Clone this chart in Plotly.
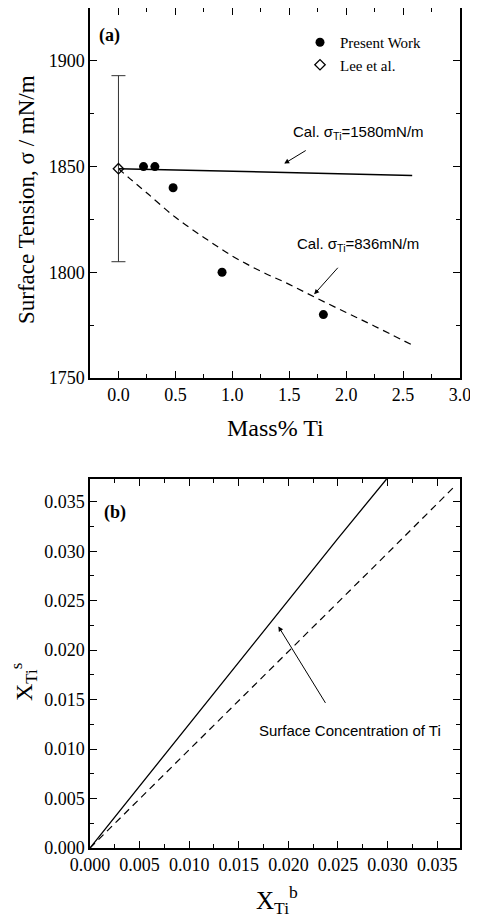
import plotly.graph_objects as go

# ---------------- data ----------------
# Panel (a)
present_x = [0.22, 0.32, 0.48, 0.91, 1.80]
present_y = [1850, 1850, 1840, 1800, 1780]

lee_x = [0.0]
lee_y = [1849]
lee_err = [44]

cal1580_x = [0.0, 0.5, 1.0, 1.5, 2.0, 2.58]
cal1580_y = [1849, 1848.4, 1847.8, 1847.2, 1846.5, 1845.8]

cal836_x = [0.0, 0.1, 0.25, 0.5, 0.75, 1.0, 1.25, 1.5, 1.75, 2.0, 2.25, 2.58]
cal836_y = [1849, 1844.3, 1837.5, 1826, 1816.5, 1807.7, 1800.5, 1794.3, 1787.5, 1781, 1774.5, 1765.6]

# Panel (b)
surf_solid_x = [0.0, 0.005, 0.010, 0.015, 0.020, 0.025, 0.0299]
surf_solid_y = [0.0, 0.00627, 0.01255, 0.0188, 0.0251, 0.0313, 0.0373]

surf_dash_x = [0.0, 0.010, 0.020, 0.030, 0.0368]
surf_dash_y = [0.0, 0.0099, 0.0199, 0.0298, 0.0366]

a_xticks = [0.0, 0.5, 1.0, 1.5, 2.0, 2.5, 3.0]
a_yticks = [1750, 1800, 1850, 1900]
b_ticks = [0.000, 0.005, 0.010, 0.015, 0.020, 0.025, 0.030, 0.035]

# ---------------- figure ----------------
OFF = 8                      # page body margin of the browser
W, H = 478 - OFF, 922 - OFF
SERIF = "Liberation Serif"
SANS = "Liberation Sans"


def px(x):
    return (x - OFF) / W


def py(y):
    return 1 - (y - OFF) / H


fig = go.Figure()

# Panel (a) traces
fig.add_trace(go.Scatter(x=cal1580_x, y=cal1580_y, mode="lines",
                         line=dict(color="black", width=1.5), showlegend=False,
                         xaxis="x", yaxis="y"))
fig.add_trace(go.Scatter(x=cal836_x, y=cal836_y, mode="lines",
                         line=dict(color="black", width=1.2, dash="7px,5px"), showlegend=False,
                         xaxis="x", yaxis="y", line_shape="spline"))
fig.add_trace(go.Scatter(x=present_x, y=present_y, mode="markers", name="Present Work",
                         marker=dict(symbol="circle", size=9, color="black"),
                         xaxis="x", yaxis="y"))
fig.add_trace(go.Scatter(x=lee_x, y=lee_y, mode="markers", name="Lee et al.",
                         marker=dict(symbol="diamond-open", size=8, color="black",
                                     line=dict(width=1.3, color="black")),
                         error_y=dict(type="data", array=lee_err, visible=True,
                                      color="#333333", thickness=1, width=7),
                         xaxis="x", yaxis="y"))

# Panel (b) traces
fig.add_trace(go.Scatter(x=surf_solid_x, y=surf_solid_y, mode="lines",
                         line=dict(color="black", width=1.3), showlegend=False,
                         xaxis="x2", yaxis="y2"))
fig.add_trace(go.Scatter(x=surf_dash_x, y=surf_dash_y, mode="lines",
                         line=dict(color="black", width=1.2, dash="7px,5px"), showlegend=False,
                         xaxis="x2", yaxis="y2"))

tickfont = dict(family=SERIF, size=18, color="black")
axis_common = dict(
    showline=True, linecolor="black", linewidth=1.5, mirror="ticks",
    ticks="inside", ticklen=7, tickwidth=1.3, tickcolor="black",
    showgrid=False, zeroline=False, automargin=False,
    tickfont=tickfont,
)
minor_common = dict(ticks="inside", ticklen=4, tickwidth=1.1, tickcolor="black", showgrid=False)

xdom = [px(90), px(460)]

fig.update_layout(
    template="simple_white",
    width=W, height=H, autosize=False,
    font=dict(family=SERIF, size=18, color="black"),
    margin=dict(l=0, r=0, t=0, b=0, pad=0, autoexpand=False),
    paper_bgcolor="white", plot_bgcolor="white",
    showlegend=True,
    legend=dict(x=px(300), y=py(26), xanchor="left", yanchor="top",
                bgcolor="rgba(0,0,0,0)", font=dict(family=SERIF, size=15, color="black"),
                itemsizing="trace", tracegroupgap=0, borderwidth=0),
    xaxis=dict(domain=xdom, anchor="y", range=[-0.25, 3.0],
               tickvals=a_xticks, ticktext=[f"{v:.1f}" for v in a_xticks],
               minor=dict(dtick=0.25, tick0=0, **minor_common), **axis_common),
    yaxis=dict(domain=[py(378), py(8)], anchor="x", range=[1750, 1925],
               tickvals=a_yticks, ticktext=[str(v) for v in a_yticks],
               minor=dict(dtick=25, tick0=1750, **minor_common), **axis_common),
    xaxis2=dict(domain=xdom, anchor="y2", range=[0, 0.0373],
                tickvals=b_ticks, ticktext=[f"{v:.3f}" for v in b_ticks],
                minor=dict(dtick=0.0025, tick0=0, **minor_common), **axis_common),
    yaxis2=dict(domain=[py(848), py(479)], anchor="x2", range=[0, 0.0373],
                tickvals=b_ticks, ticktext=[f"{v:.3f}" for v in b_ticks],
                minor=dict(dtick=0.0025, tick0=0, **minor_common), **axis_common),
)

ann = []
# axis titles
ann.append(dict(text="Surface Tension, σ / mN/m", x=px(27), y=py(200), xref="paper", yref="paper",
                showarrow=False, textangle=-90, font=dict(family=SERIF, size=23, color="black"),
                xanchor="center", yanchor="middle"))
ann.append(dict(text="Mass% Ti", x=px(275), y=py(428), xref="paper", yref="paper",
                showarrow=False, font=dict(family=SERIF, size=24, color="black"),
                xanchor="center", yanchor="middle"))
ann.append(dict(text="X<sub>Ti</sub><sup>s</sup>", x=px(24), y=py(682), xref="paper", yref="paper",
                showarrow=False, textangle=-90, font=dict(family=SERIF, size=24, color="black"),
                xanchor="center", yanchor="middle"))
ann.append(dict(text="X<sub>Ti</sub><sup>b</sup>", x=px(277), y=py(900), xref="paper", yref="paper",
                showarrow=False, font=dict(family=SERIF, size=25, color="black"),
                xanchor="center", yanchor="middle"))
# panel labels
ann.append(dict(text="<b>(a)</b>", x=-0.079, y=1911.8, xref="x", yref="y", showarrow=False,
                font=dict(family=SERIF, size=18, color="black"), xanchor="center", yanchor="middle"))
ann.append(dict(text="<b>(b)</b>", x=0.00252, y=0.0339, xref="x2", yref="y2", showarrow=False,
                font=dict(family=SERIF, size=18, color="black"), xanchor="center", yanchor="middle"))
# curve labels
ann.append(dict(text="Cal. σ<sub>Ti</sub>=1580mN/m", x=2.105, y=1866, xref="x", yref="y",
                showarrow=False, font=dict(family=SANS, size=15, color="black"),
                xanchor="center", yanchor="middle"))
ann.append(dict(text="", x=1.456, y=1851.4, xref="x", yref="y", showarrow=True,
                ax=23, ay=-14, arrowhead=2, arrowsize=1, arrowwidth=1, arrowcolor="black", standoff=0))
ann.append(dict(text="Cal. σ<sub>Ti</sub>=836mN/m", x=2.105, y=1813.2, xref="x", yref="y",
                showarrow=False, font=dict(family=SANS, size=15, color="black"),
                xanchor="center", yanchor="middle"))
ann.append(dict(text="", x=1.719, y=1789.6, xref="x", yref="y", showarrow=True,
                ax=25, ay=-28, arrowhead=2, arrowsize=1, arrowwidth=1, arrowcolor="black", standoff=0))
ann.append(dict(text="Surface Concentration of Ti", x=0.02623, y=0.01184, xref="x2", yref="y2",
                showarrow=False, font=dict(family=SANS, size=15, color="black"),
                xanchor="center", yanchor="middle"))
ann.append(dict(text="", x=0.01899, y=0.0224, xref="x2", yref="y2", showarrow=True,
                ax=48, ay=78, arrowhead=2, arrowsize=1, arrowwidth=1, arrowcolor="black", standoff=0))

fig.update_layout(annotations=ann)

fig.write_html("out.html")
